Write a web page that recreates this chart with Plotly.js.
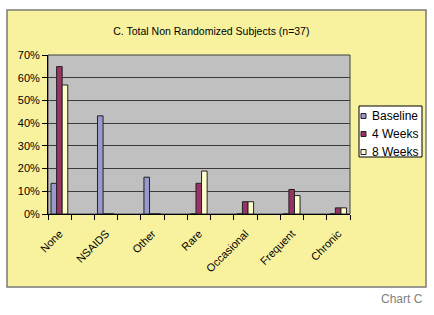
<!DOCTYPE html>
<html>
<head>
<meta charset="utf-8">
<script src="https://cdn.plot.ly/plotly-3.0.1.min.js"></script>
<style>html,body{margin:0;padding:0;background:#fff;}#chart{width:434px;height:315px;}</style>
</head>
<body>
<div id="chart"></div>
<script>
// Categories (every other slot on the category axis is empty, as in the original)
const categories = ["None", "NSAIDS", "Other", "Rare", "Occasional", "Frequent", "Chronic"];
const categoryPositions = [0, 2, 4, 6, 8, 10, 12];
const seriesNames = ["Baseline", "4 Weeks", "8 Weeks"];
// Percent of subjects
const baseline = [13.5, 43.2, 16.2, 0, 0, 0, 0];
const weeks4   = [64.9, 0, 0, 13.5, 5.4, 10.8, 2.7];
const weeks8   = [56.8, 0, 0, 18.9, 5.4, 8.1, 2.7];
const yTicks = [0, 10, 20, 30, 40, 50, 60, 70];
const yTickLabels = ["0%", "10%", "20%", "30%", "40%", "50%", "60%", "70%"];
const boundaries = [-0.5,0.5,1.5,2.5,3.5,4.5,5.5,6.5,7.5,8.5,9.5,10.5,11.5,12.5];

const colors = ["#9999cc", "#993366", "#ffffcc"];
const offsets = [-0.37, -0.13, 0.11];
const seriesValues = [baseline, weeks4, weeks8];

const traces = seriesValues.map((vals, i) => ({
  type: "bar",
  name: seriesNames[i],
  x: categoryPositions,
  y: vals,
  width: 0.24,
  offset: offsets[i],
  marker: {color: colors[i], line: {color: "#222", width: 1}},
  hoverinfo: "skip",
  showlegend: false
}));

// pixel -> paper helpers (plot area: x 48..350, y 55..214)
const L = 48, R = 350, T = 55, B = 214;
const px = v => (v - L) / (R - L);
const py = v => (B - v) / (B - T);

const shapes = [
  {type: "rect", xref: "paper", yref: "paper", layer: "below",
   x0: px(7), x1: px(426), y0: py(287), y1: py(10),
   fillcolor: "#f8f29e", line: {color: "#7a7a7a", width: 1.5}},
  {type: "rect", xref: "paper", yref: "paper", layer: "below",
   x0: 0, x1: 1, y0: 0, y1: 1,
   fillcolor: "#c0c0c0", line: {color: "#404040", width: 1}},
  // legend box
  {type: "rect", xref: "paper", yref: "paper", layer: "above",
   x0: px(359), x1: px(422), y0: py(157), y1: py(106),
   fillcolor: "#ffffff", line: {color: "#000", width: 1}}
];
const annotations = [
  {text: "Chart C", xref: "paper", yref: "paper", x: px(425), y: py(299),
   xanchor: "right", yanchor: "middle", showarrow: false,
   font: {size: 12, color: "#808080"}}
];
seriesNames.forEach((name, i) => {
  const cy = 116 + i * 18;
  shapes.push({type: "rect", xref: "paper", yref: "paper", layer: "above",
    x0: px(361), x1: px(366), y0: py(cy + 2.5), y1: py(cy - 2.5),
    fillcolor: colors[i], line: {color: "#222", width: 1}});
  annotations.push({text: name, xref: "paper", yref: "paper",
    x: px(370), y: py(cy), xanchor: "left", yanchor: "middle", showarrow: false,
    font: {size: 12, color: "#000"}});
});

const layout = {
  width: 434, height: 315,
  margin: {l: L, r: 434 - R, t: T, b: 315 - B, autoexpand: false},
  paper_bgcolor: "#ffffff",
  plot_bgcolor: "rgba(0,0,0,0)",
  barmode: "overlay",
  showlegend: false,
  font: {family: "Liberation Sans, Arial, sans-serif", size: 11, color: "#000"},
  title: {
    text: "C. Total Non Randomized Subjects (n=37)",
    font: {size: 10.5, color: "#000"},
    xref: "container", x: 0.487, xanchor: "center",
    yref: "container", y: 0.902, yanchor: "middle"
  },
  xaxis: {
    range: [-0.5, 12.5],
    tickmode: "array",
    tickvals: categoryPositions,
    ticktext: categories,
    ticks: "",
    tickangle: -45,
    ticklabelstandoff: 8,
    showgrid: false,
    zeroline: false,
    showline: true, linecolor: "#000", linewidth: 1,
    minor: {tickmode: "array", tickvals: boundaries, ticks: "outside", ticklen: 5, tickcolor: "#000", tickwidth: 1, showgrid: false},
    fixedrange: true
  },
  yaxis: {
    range: [0, 70],
    tickmode: "array",
    tickvals: yTicks,
    ticktext: yTickLabels,
    ticks: "outside", ticklen: 5, tickcolor: "#000",
    showgrid: true, gridcolor: "#3a3a3a", gridwidth: 1,
    zeroline: false,
    showline: true, linecolor: "#000", linewidth: 1,
    fixedrange: true
  },
  shapes: shapes,
  annotations: annotations
};

Plotly.newPlot("chart", traces, layout, {displayModeBar: false, staticPlot: true});
</script>
</body>
</html>
